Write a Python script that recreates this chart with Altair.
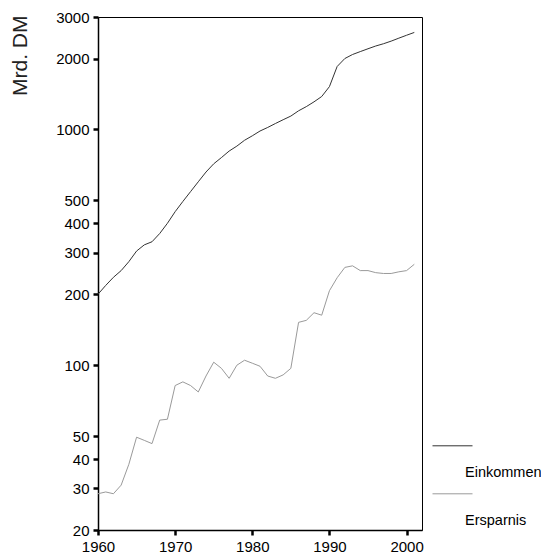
import altair as alt
import pandas as pd

years = list(range(1960, 2002))
einkommen = [200, 218, 236, 252, 275, 305, 324, 334, 362, 400,
             448, 495, 545, 600, 660, 715, 760, 810, 850, 900,
             940, 985, 1020, 1060, 1100, 1140, 1200, 1250, 1310, 1380,
             1520, 1850, 2000, 2080, 2140, 2200, 2260, 2310, 2370, 2440,
             2510, 2580]
ersparnis = [28.5, 29, 28.5, 31, 38, 49.5, 48, 46.5, 58.5, 59,
             82, 85, 82, 77, 90, 103, 97, 88, 100, 105,
             102, 99, 90, 88, 91, 97, 152, 155, 167, 163,
             207, 235, 260, 264, 252, 252, 247, 245, 245, 249,
             252, 268]
series_names = ["Einkommen", "Ersparnis"]
series_colors = ["#333333", "#9a9a9a"]
y_ticks = [20, 30, 40, 50, 100, 200, 300, 400, 500, 1000, 2000, 3000]
x_ticks = [1960, 1970, 1980, 1990, 2000]

df = pd.DataFrame({
    "Jahr": years + years,
    "Wert": einkommen + ersparnis,
    "Reihe": [series_names[0]] * len(years) + [series_names[1]] * len(years),
})

FONT = "Liberation Sans"

chart = alt.Chart(df).mark_line(strokeWidth=1).encode(
    x=alt.X("Jahr:Q",
            scale=alt.Scale(domain=[1960, 2002], nice=False, zero=False),
            axis=alt.Axis(values=x_ticks, format="d", title=None, grid=False,
                          labelFlush=False,
                          domainColor="black", domainWidth=1.5,
                          tickColor="black", tickWidth=2.5, tickSize=5,
                          labelPadding=4, labelFont=FONT, labelFontSize=15,
                          labelColor="black")),
    y=alt.Y("Wert:Q",
            scale=alt.Scale(type="log", domain=[20, 3000], nice=False),
            axis=alt.Axis(values=y_ticks, format="d", title="Mrd. DM", grid=False,
                          labelFlush=False,
                          domainColor="black", domainWidth=1.5,
                          tickColor="black", tickWidth=2.5, tickSize=5,
                          labelPadding=4, labelFont=FONT, labelFontSize=15,
                          labelColor="black",
                          titleFont=FONT, titleFontSize=21, titleFontWeight="normal",
                          titleColor="#222222", titleAngle=270, titleAlign="right",
                          titleBaseline="alphabetic", titleX=-72, titleY=-2)),
    color=alt.Color("Reihe:N",
                    scale=alt.Scale(domain=series_names, range=series_colors),
                    legend=alt.Legend(title=None, orient="none", legendX=326, legendY=435,
                                      symbolType="M-0.6,-1.335L1.4,-1.335", symbolSize=1600,
                                      symbolStrokeWidth=1, labelOffset=0,
                                      labelFont=FONT, labelFontSize=14.5, labelColor="black",
                                      rowPadding=12)),
).properties(
    width=324, height=513,
    padding={"left": 90, "top": 9, "right": 119, "bottom": 23},
    autosize=alt.AutoSizeParams(type="none"),
).configure_view(stroke="black", strokeWidth=1)

chart.save("out.html", embed_options={"renderer": "svg", "actions": False})
